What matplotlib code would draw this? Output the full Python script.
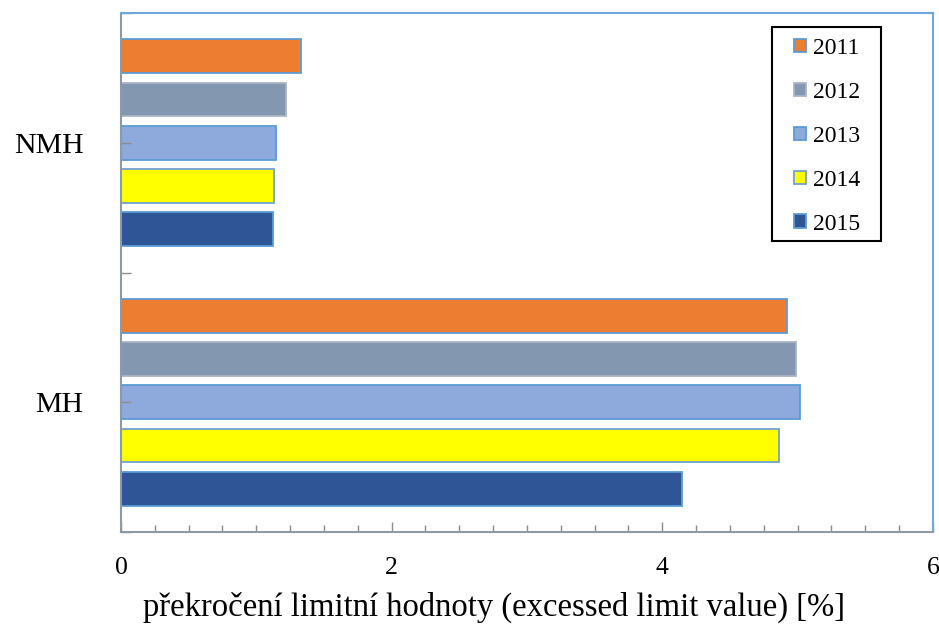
import numpy as np
import matplotlib.pyplot as plt
from matplotlib.ticker import MultipleLocator
from matplotlib.patches import Rectangle

plt.rcParams['font.family'] = ['Liberation Serif', 'DejaVu Serif']

groups = ['MH', 'NMH']
years = ['2011', '2012', '2013', '2014', '2015']
values = {
    '2011': [4.92, 1.33],
    '2012': [4.99, 1.22],
    '2013': [5.015, 1.145],
    '2014': [4.865, 1.13],
    '2015': [4.145, 1.12],
}
fills = ['#ED7D31', '#8497B0', '#8EA9DB', '#FFFF00', '#2F5597']
edges = ['#5B9BD5', '#A9B4C4', '#5B9BD5', '#6FA0D0', '#5B9BD5']

W, H = 939, 630
fig = plt.figure(figsize=(W / 100, H / 100), dpi=100)
ax = fig.add_axes([121 / W, 1 - 532 / H, (933 - 121) / W, (532 - 13) / H])

y = np.arange(len(groups))
step = 1 / 6
for i, yr in enumerate(years):
    offset = (2 - i) * step
    ax.barh(y + offset, values[yr], height=0.131, color=fills[i],
            edgecolor=edges[i], linewidth=1.3, label=yr)

ax.set_xlim(0, 6)
ax.set_ylim(-0.5, 1.5)
ax.xaxis.set_major_locator(MultipleLocator(2))
ax.xaxis.set_minor_locator(MultipleLocator(0.25))
ax.set_yticks([-0.5, 0, 0.5, 1, 1.5])
ax.set_yticklabels(['', 'MH', '', 'NMH', ''], fontsize=21.5)
ax.tick_params(axis='y', direction='in', length=7, width=1, color='#8C8C8C', pad=27)
ax.tick_params(axis='x', which='major', direction='in', length=7, width=1,
               color='#8C8C8C', labelsize=18.5, pad=18)
ax.tick_params(axis='x', which='minor', direction='in', length=5, width=1,
               color='#8C8C8C')

for side in ['top', 'right']:
    ax.spines[side].set_color('#6FA8DC')
    ax.spines[side].set_linewidth(1.5)
for side in ['left', 'bottom']:
    ax.spines[side].set_color('#8C9AA8')
    ax.spines[side].set_linewidth(1.5)

ax.set_xlabel('překročení limitní hodnoty (excessed limit value) [%]',
              fontsize=23.5, labelpad=8)
ax.xaxis.set_label_coords((494 - 121) / (933 - 121), -0.115)

# legend entries without frame, box drawn separately
leg = fig.legend(loc='upper left', bbox_to_anchor=(794 / W, 1 - 38 / H),
                 fontsize=17, frameon=False, handlelength=0.5, handleheight=0.5,
                 handletextpad=0.3, labelspacing=0.97, borderpad=0,
                 borderaxespad=0)
fig.patches.append(Rectangle((772 / W, 1 - 241 / H), (881 - 772) / W, (241 - 27) / H,
                             transform=fig.transFigure, fill=False,
                             edgecolor='black', linewidth=1.5, zorder=5))

fig.savefig('out.png', dpi=100)
